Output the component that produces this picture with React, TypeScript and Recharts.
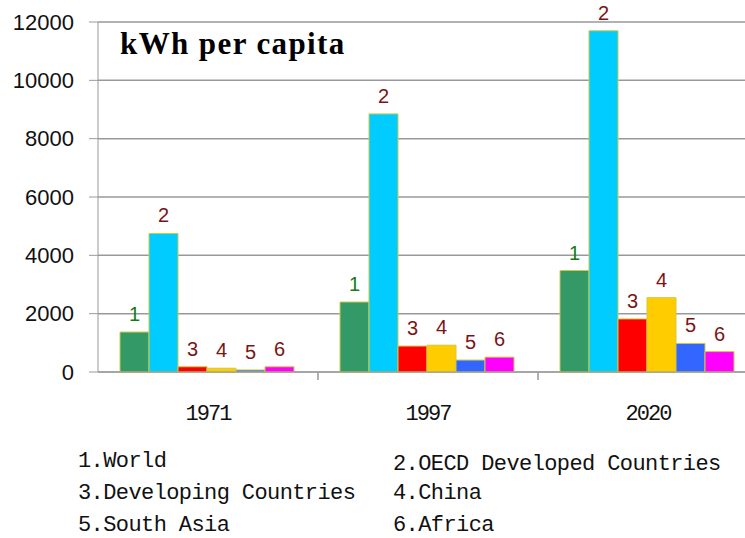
import React from 'react'
import { BarChart, Bar, XAxis, YAxis, CartesianGrid, Legend, LabelList } from 'recharts'

const YEARS = ['1971', '1997', '2020']
const SERIES_NAMES = ['World', 'OECD Developed Countries', 'Developing Countries', 'China', 'South Asia', 'Africa']
const SERIES_COLORS = ['#339966', '#00ccff', '#ff0000', '#ffcc00', '#3366ff', '#ff00ff']
const WORLD = [1370, 2400, 3480]
const OECD = [4750, 8850, 11700]
const DEVELOPING = [180, 890, 1820]
const CHINA = [130, 920, 2550]
const SOUTH_ASIA = [70, 410, 980]
const AFRICA = [180, 510, 700]
const Y_TICKS = [0, 2000, 4000, 6000, 8000, 10000, 12000]

const SERIES_VALUES = [WORLD, OECD, DEVELOPING, CHINA, SOUTH_ASIA, AFRICA]
const data = YEARS.map((year, i) => {
  const row: Record<string, string | number> = { year }
  SERIES_VALUES.forEach((vals, s) => { row['s' + (s + 1)] = vals[i] })
  return row
})

const MONO = '"Liberation Mono", "DejaVu Sans Mono", monospace'
const SANS = '"Liberation Sans", Arial, sans-serif'

const makeLabel = (num: number) => (props: any) => {
  const { x, y, width } = props
  return (
    <text
      x={x + width / 2}
      y={y - 11}
      textAnchor="middle"
      fill={num === 1 ? '#157a15' : '#7a1414'}
      fontSize={20}
      fontFamily={SANS}
    >
      {num}
    </text>
  )
}

// year label centred, with a small tick mark at the left edge of the category band
const YearTick = (props: any) => {
  const { x, y, payload, index, bandSize } = props
  const half = (bandSize ?? 220) / 2
  return (
    <g>
      {index > 0 && <line x1={x - half} x2={x - half} y1={y} y2={y + 8} stroke="#999" strokeWidth={1.5} />}
      <text
        x={x}
        y={y + 48}
        textAnchor="middle"
        fill="#111"
        fontSize={22}
        letterSpacing={-2}
        fontFamily={MONO}
      >
        {payload.value}
      </text>
    </g>
  )
}

const LegendBox = () => (
  <div
    style={{
      display: 'grid',
      gridTemplateColumns: '315px 360px',
      rowGap: 12,
      fontFamily: MONO,
      fontSize: 22,
      color: '#111',
      lineHeight: '20px',
      letterSpacing: '-0.6px',
    }}
  >
    {SERIES_NAMES.map((name, i) => (
      <div key={name} style={{ position: 'relative', top: i === 1 ? 3 : 0 }}>
        {i + 1}.{name}
      </div>
    ))}
  </div>
)

export default function App() {
  return (
    <div style={{ position: 'absolute', top: 0, left: 0, width: 745, height: 538, overflow: 'hidden', background: '#fff' }}>
      <BarChart
        width={766}
        height={538}
        data={data}
        margin={{ top: 22, right: 8, left: 0, bottom: 0 }}
        barGap={0}
      >
        <CartesianGrid vertical={false} stroke="#999" strokeWidth={1.5} />
        <XAxis
          dataKey="year"
          height={82}
          stroke="#999"
          tickSize={0}
          tickMargin={0}
          tick={<YearTick bandSize={220} />}
        />
        <YAxis
          width={98}
          domain={[0, 12000]}
          ticks={Y_TICKS}
          stroke="#999"
          tickSize={9}
          tickMargin={15}
          interval={0}
          tick={{ fill: '#111', fontSize: 22, fontFamily: SANS }}
        />
        <Legend
          content={<LegendBox />}
          wrapperStyle={{ top: 452, left: 78, width: 700, height: 84 }}
        />
        {SERIES_NAMES.map((name, s) => (
          <Bar
            key={name}
            dataKey={'s' + (s + 1)}
            name={name}
            fill={SERIES_COLORS[s]}
            stroke="#cccc44"
            strokeWidth={1}
            isAnimationActive={false}
          >
            <LabelList dataKey={'s' + (s + 1)} content={makeLabel(s + 1)} />
          </Bar>
        ))}
        <text
          x={120}
          y={54}
          fontFamily='"Liberation Serif", "Times New Roman", serif'
          fontWeight="bold"
          fontSize={31}
          letterSpacing={1.4}
          fill="#000"
        >
          kWh per capita
        </text>
      </BarChart>
    </div>
  )
}
